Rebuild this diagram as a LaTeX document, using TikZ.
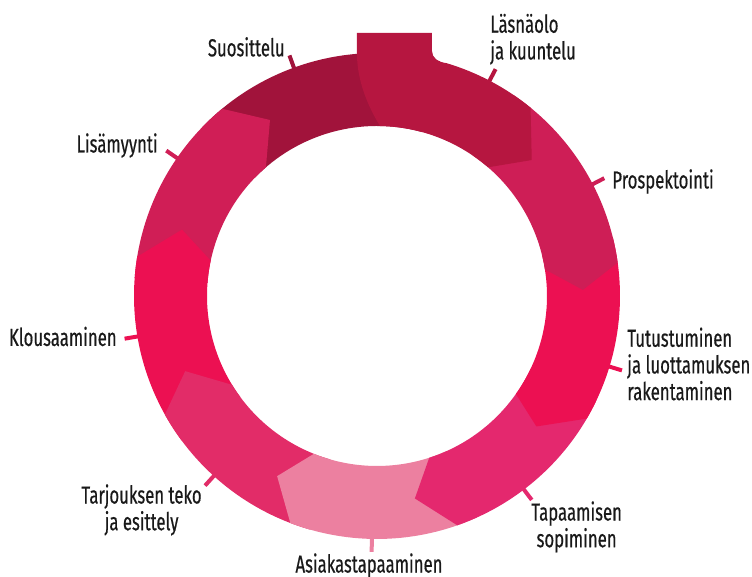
\documentclass[tikz,border=0pt]{standalone}
\usepackage{fontspec}
\setmainfont{Fira Sans}[FakeStretch=0.68, FakeBold=0.5]

\definecolor{suosittelu}{RGB}{161,19,59}
\definecolor{laesnaolo}{RGB}{182,22,64}
\definecolor{prospektointi}{RGB}{206,30,86}
\definecolor{tutustuminen}{RGB}{236,16,82}
\definecolor{tapaamisen}{RGB}{228,40,110}
\definecolor{asiakas}{RGB}{236,128,160}
\definecolor{tarjous}{RGB}{226,44,104}
\definecolor{klousaus}{RGB}{236,16,82}
\definecolor{lisamyynti}{RGB}{208,30,86}

\begin{document}
\begin{tikzpicture}[
	x=0.02cm, y=0.02cm,
	lbl/.style = {inner sep=0pt, text=black!90, font=\fontsize{14}{15.2}\selectfont},
	tick/.style = {line width=0.08cm}
     ]
	\useasboundingbox (-377,-281) rectangle (375,296);
%
		% ring pieces, last one drawn lies on top of the one after it
		\foreach \cl/\tl/\eo/\tp/\ei in {
			suosittelu/-224/-285/-285/-285,
			lisamyynti/-184.3/-230.4/-238.7/-229.2,
			klousaus/-143.5/-189.3/-198.8/-192,
			tarjous/-105.9/-150.8/-158.6/-148.5,
			asiakas/-65.7/-110.9/-119/-111.8,
			tapaamisen/-25.3/-70.7/-79.4/-72.1,
			tutustuminen/14/-30.3/-39.3/-35.2,
			prospektointi/55.8/7.9/1.7/9}
		\fill[\cl] (\tl:243) arc[start angle=\tl, end angle=\eo, radius=243]
			-- (\tp:206) -- (\ei:170) arc[start angle=\ei, end angle=\tl, radius=170] -- cycle;
%
		% first step with its tab on top
		\fill[laesnaolo] (3,170) .. controls (-13,196) and (-20,221) .. (-20,242)
			-- (-20,263) -- (55,263) -- (55,245) .. controls (55,238) and (61,234) .. (73.3:243)
			arc[start angle=73.3, end angle=50.8, radius=243] -- (41.3:206) -- (49.2:170)
			arc[start angle=49.2, end angle=89, radius=170] -- cycle;
%
		\foreach \a/\cl in {62.4/laesnaolo, 27.4/prospektointi, -16.9/tutustuminen,
			-52.8/tapaamisen, -91.2/asiakas, -132.2/tarjous, -170.4/klousaus,
			145.4/lisamyynti, 110/suosittelu}
		\draw[tick, \cl] (\a:241) -- (\a:256);
%
		\node[lbl, anchor=south west, align=left] (las) at (113,231) {Läsnäolo\\ja kuuntelu};
		\node[lbl, anchor=west] (pro) at (235,114.5) {Prospektointi};
		\node[lbl, anchor=west, align=left] (tut) at (250,-68) {Tutustuminen\\ja luottamuksen\\rakentaminen};
		\node[lbl, anchor=north west, align=center] (tap) at (154,-205) {Tapaamisen\\sopiminen};
		\node[lbl, anchor=north] (asi) at (-8,-257) {Asiakastapaaminen};
		\node[lbl, anchor=north east, align=center] (tar) at (-175,-188) {Tarjouksen teko\\ja esittely};
		\node[lbl, anchor=east] (klo) at (-260,-40.5) {Klousaaminen};
		\node[lbl, anchor=east] (lis) at (-219,150.5) {Lisämyynti};
		\node[lbl, anchor=south east] (suo) at (-92,239) {Suosittelu};
\end{tikzpicture}
\end{document}
